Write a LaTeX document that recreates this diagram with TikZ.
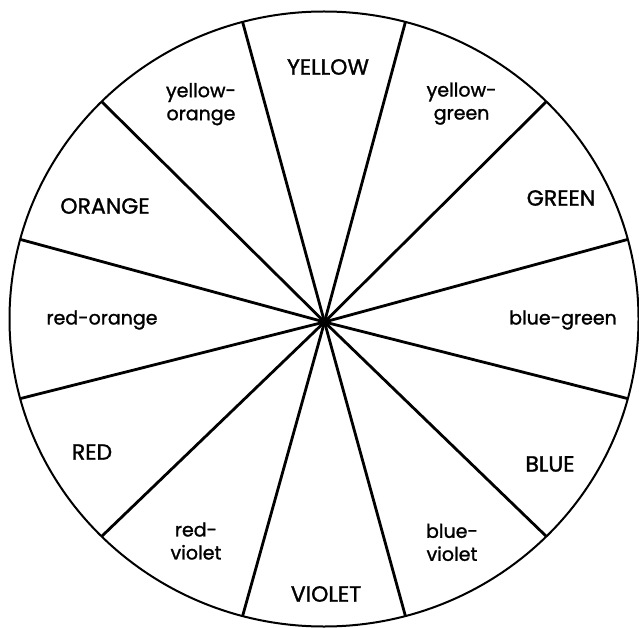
\documentclass[tikz,border=0pt]{standalone}
\usepackage{fontspec}
\setmainfont{Poppins}
\newfontfamily\huefont{Poppins}[FakeBold=1.3]
\usepackage{tikz}
\begin{document}
\begin{tikzpicture}[
    x=1pt, y=-1pt,
    rim/.style={line width=2pt},
    spoke/.style={line width=2.8pt},
    hue/.style={align=center, inner sep=0pt, font=\huefont\fontsize{19}{23}\selectfont},
    capshue/.style={hue, font=\huefont\fontsize{22}{23}\selectfont}
]
    \useasboundingbox (0,0) rectangle (639,628);
    \fill[white] (0,0) rectangle (639,628);

    % outer rim
    \draw[rim] (324,319) ellipse [x radius=314.5, y radius=307.5];

    % twelve spokes from the hub
    \coordinate (hub) at (324.5,322);
    \foreach \a in {15,45,...,345}
        \draw[spoke] (hub) -- ({324+314.5*cos(\a)},{319-307.5*sin(\a)});

    % primary and secondary hues
    \node[capshue] (yellow) at (328,67) {YELLOW};
    \node[capshue] (green) at (561,198) {GREEN};
    \node[capshue] (blue) at (550,464) {BLUE};
    \node[capshue] (violet) at (326,594) {VIOLET};
    \node[capshue] (red) at (92,452) {RED};
    \node[capshue] (orange) at (105,206) {ORANGE};

    % tertiary hues
    \node[hue] (yelgreen) at (461.6,103.6) {yellow-\\green};
    \node[hue] (bluegreen) at (563,320) {blue-green};
    \node[hue] (blueviolet) at (452,542.4) {blue-\\violet};
    \node[hue] (redviolet) at (196,541) {red-\\violet};
    \node[hue] (redorange) at (102,320) {red-orange};
    \node[hue] (yelorange) at (201,104.2) {yellow-\\orange};
\end{tikzpicture}
\end{document}
